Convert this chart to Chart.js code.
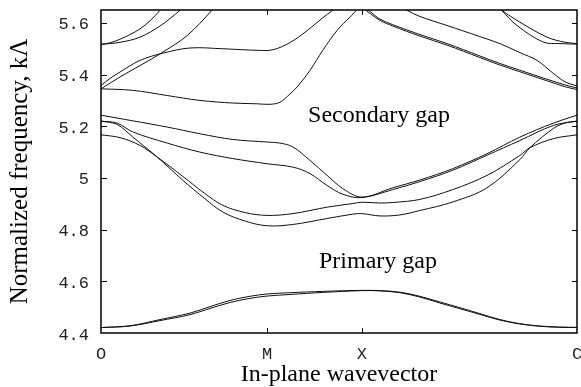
<!DOCTYPE html>
<html><head><meta charset="utf-8">
<script src="https://cdn.jsdelivr.net/npm/chart.js@4.4.0/dist/chart.umd.min.js"></script>
<style>html,body{margin:0;padding:0;background:#fff;}canvas{display:block;}</style>
</head><body>
<canvas id="c" width="581" height="387"></canvas>
<script>
// x axis: normalized position along the O-M-X-C path
const kTickValues = [0, 0.349, 0.548, 1];
const kTickLabels = ['O', 'M', 'X', 'C'];
const fTickValues = [4.4, 4.6, 4.8, 5.0, 5.2, 5.4, 5.6];
const fTickLabels = ['4.4', '4.6', '4.8', '5', '5.2', '5.4', '5.6'];

// band 1 & 2 (below primary gap)
const band1K = [0, 0.061, 0.124, 0.187, 0.229, 0.271, 0.313, 0.349, 0.397, 0.466, 0.548, 0.586, 0.628, 0.670, 0.712, 0.754, 0.796, 0.838, 0.880, 0.922, 0.964, 1];
const band1F = [4.421, 4.428, 4.452, 4.477, 4.502, 4.526, 4.542, 4.551, 4.556, 4.561, 4.565, 4.564, 4.558, 4.542, 4.520, 4.498, 4.475, 4.452, 4.436, 4.427, 4.423, 4.422];
const band2K = band1K;
const band2F = [4.421, 4.427, 4.448, 4.471, 4.495, 4.518, 4.534, 4.543, 4.549, 4.557, 4.564, 4.563, 4.556, 4.539, 4.516, 4.494, 4.472, 4.450, 4.435, 4.426, 4.422, 4.421];
// bands between the gaps
const band3K = [0, 0.034, 0.067, 0.118, 0.172, 0.218, 0.256, 0.303, 0.349, 0.403, 0.475, 0.529, 0.548, 0.586, 0.628, 0.670, 0.739, 0.811, 0.880, 0.901, 0.950, 0.975, 1];
const band3F = [5.220, 5.207, 5.158, 5.081, 4.991, 4.920, 4.868, 4.833, 4.815, 4.820, 4.843, 4.860, 4.862, 4.853, 4.857, 4.874, 4.907, 4.962, 5.071, 5.117, 5.191, 5.213, 5.220];
const band4K = [0, 0.040, 0.082, 0.118, 0.172, 0.218, 0.256, 0.303, 0.349, 0.403, 0.475, 0.529, 0.548, 0.586, 0.613, 0.670, 0.739, 0.811, 0.880, 0.901, 0.950, 1];
const band4F = [5.167, 5.156, 5.126, 5.081, 5.006, 4.940, 4.894, 4.866, 4.855, 4.862, 4.887, 4.901, 4.906, 4.903, 4.905, 4.917, 4.955, 5.010, 5.087, 5.117, 5.152, 5.167];
const band5K = [0, 0.034, 0.067, 0.139, 0.208, 0.277, 0.349, 0.403, 0.439, 0.475, 0.508, 0.548, 0.613, 0.670, 0.739, 0.811, 0.880, 0.950, 1];
const band5F = [5.220, 5.212, 5.178, 5.135, 5.100, 5.075, 5.055, 5.042, 5.017, 4.971, 4.937, 4.924, 4.955, 4.986, 5.030, 5.088, 5.145, 5.203, 5.220];
const band6K = [0, 0.067, 0.139, 0.208, 0.277, 0.349, 0.376, 0.403, 0.439, 0.475, 0.508, 0.548, 0.613, 0.670, 0.739, 0.811, 0.880, 0.950, 1];
const band6F = [5.243, 5.221, 5.197, 5.171, 5.149, 5.139, 5.135, 5.120, 5.068, 5.010, 4.959, 4.926, 4.962, 4.992, 5.036, 5.094, 5.158, 5.212, 5.243];
// bands above the secondary gap
const band7K = [0, 0.067, 0.139, 0.208, 0.277, 0.328, 0.355, 0.376, 0.397, 0.412, 0.439, 0.466, 0.496, 0.523, 0.548, 0.586, 0.613, 0.670, 0.727, 0.796, 0.838, 0.880, 0.937, 0.975, 1];
const band7F = [5.345, 5.339, 5.319, 5.300, 5.290, 5.287, 5.285, 5.293, 5.325, 5.352, 5.416, 5.494, 5.571, 5.622, 5.660, 5.615, 5.593, 5.555, 5.520, 5.472, 5.443, 5.417, 5.382, 5.360, 5.348];
const band8K = [0.548, 0.586, 0.613, 0.670, 0.727, 0.796, 0.838, 0.880, 0.937, 0.975, 1];
const band8F = [5.660, 5.610, 5.588, 5.549, 5.514, 5.466, 5.437, 5.411, 5.376, 5.353, 5.342];
const band9K = [0, 0.019, 0.040, 0.082, 0.130, 0.187, 0.256, 0.328, 0.361, 0.397, 0.433, 0.466, 0.487, 0.502];
const band9F = [5.358, 5.385, 5.410, 5.455, 5.483, 5.503, 5.500, 5.494, 5.496, 5.524, 5.570, 5.620, 5.649, 5.670];
const band10K = [0, 0.040, 0.082, 0.130, 0.181, 0.233, 0.250];
const band10F = [5.345, 5.391, 5.435, 5.487, 5.551, 5.649, 5.690];
const band11K = [0, 0.019, 0.040, 0.061, 0.082, 0.103, 0.124, 0.134];
const band11F = [5.517, 5.523, 5.537, 5.555, 5.577, 5.608, 5.649, 5.670];
const band12K = [0, 0.040, 0.082, 0.124, 0.145, 0.166, 0.176];
const band12F = [5.517, 5.525, 5.545, 5.588, 5.617, 5.649, 5.670];
const band13K = [0.618, 0.643, 0.670, 0.727, 0.796, 0.838, 0.880, 0.916, 0.950, 0.975, 1];
const band13F = [5.680, 5.649, 5.625, 5.590, 5.547, 5.520, 5.485, 5.455, 5.405, 5.372, 5.356];
const band14K = [0.832, 0.842, 0.880, 0.937, 0.975, 1];
const band14F = [5.670, 5.649, 5.603, 5.545, 5.525, 5.520];
const band15K = [0.834, 0.842, 0.874, 0.929, 0.964, 1];
const band15F = [5.672, 5.649, 5.590, 5.526, 5.520, 5.518];

const gapLabels = ['Secondary gap', 'Primary gap'];
const gapLabelK = [0.435, 0.458];
const gapLabelF = [5.215, 4.650];

const bands = [
  [band1K, band1F], [band2K, band2F], [band3K, band3F], [band4K, band4F], [band5K, band5F],
  [band6K, band6F], [band7K, band7F], [band8K, band8F], [band9K, band9F], [band10K, band10F],
  [band11K, band11F], [band12K, band12F], [band13K, band13F], [band14K, band14F], [band15K, band15F]
];
const datasets = bands.map(([k, f]) => ({
  data: k.map((v, i) => ({x: v, y: f[i]})),
  borderColor: '#111', borderWidth: 1, pointRadius: 0, fill: false,
  tension: 0.35
}));

const framePlugin = {
  id: 'frame',
  afterDatasetsDraw(chart) {
    const {ctx, chartArea: a, scales: {x, y}} = chart;
    ctx.save();
    ctx.strokeStyle = '#000';
    ctx.lineWidth = 1.5;
    ctx.strokeRect(a.left, a.top, a.right - a.left, a.bottom - a.top);
    ctx.lineWidth = 1;
    ctx.beginPath();
    fTickValues.forEach(v => {
      if (v === 4.4) return;
      const py = Math.round(y.getPixelForValue(v)) + 0.5;
      ctx.moveTo(a.left, py); ctx.lineTo(a.left + 6, py);
      ctx.moveTo(a.right, py); ctx.lineTo(a.right - 5, py);
    });
    kTickValues.forEach(v => {
      if (v === 0 || v === 1) return;
      const px = Math.round(x.getPixelForValue(v)) + 0.5;
      ctx.moveTo(px, a.bottom); ctx.lineTo(px, a.bottom - 5);
      ctx.moveTo(px, a.top); ctx.lineTo(px, a.top + 5);
    });
    ctx.stroke();
    ctx.fillStyle = '#000';
    ctx.font = '24px "Liberation Serif"';
    ctx.textAlign = 'left';
    ctx.textBaseline = 'alphabetic';
    gapLabels.forEach((t, i) => ctx.fillText(t, x.getPixelForValue(gapLabelK[i]), y.getPixelForValue(gapLabelF[i])));
    ctx.restore();
  }
};

new Chart(document.getElementById('c').getContext('2d'), {
  type: 'line',
  data: {datasets},
  options: {
    responsive: false, animation: false, devicePixelRatio: 1,
    layout: {padding: {left: 0, top: 10, right: 4, bottom: 0}},
    plugins: {legend: {display: false}, tooltip: {enabled: false}},
    scales: {
      x: {
        type: 'linear', min: 0, max: 1,
        grid: {display: false, drawTicks: false}, border: {display: false},
        afterBuildTicks: s => { s.ticks = kTickValues.map(v => ({value: v})); },
        ticks: {autoSkip: false, maxRotation: 0, padding: 11, color: '#222',
          font: {family: 'Liberation Mono', size: 17}, callback: (v, i) => kTickLabels[i]},
        title: {display: true, text: 'In-plane wavevector', color: '#000',
          font: {family: 'Liberation Serif', size: 24, lineHeight: 1.05}, padding: {top: 0, bottom: 0}},
        afterFit: s => { s.height = 54; s.paddingLeft = 0; s.paddingRight = 0; }
      },
      y: {
        type: 'linear', min: 4.4, max: 5.65,
        grid: {display: false, drawTicks: false}, border: {display: false},
        afterBuildTicks: s => { s.ticks = fTickValues.map(v => ({value: v})); },
        ticks: {autoSkip: false, padding: 12, labelOffset: 2, color: '#222',
          font: {family: 'Liberation Mono', size: 17}, callback: (v, i) => fTickLabels[i]},
        title: {display: true, text: 'Normalized frequency, kΛ', color: '#000',
          font: {family: 'Liberation Serif', size: 25, lineHeight: 1.05}, padding: {top: 7, bottom: 0}},
        afterFit: s => { s.width = 101; s.paddingTop = 0; s.paddingBottom = 0; }
      }
    }
  },
  plugins: [framePlugin]
});
</script>
</body></html>
